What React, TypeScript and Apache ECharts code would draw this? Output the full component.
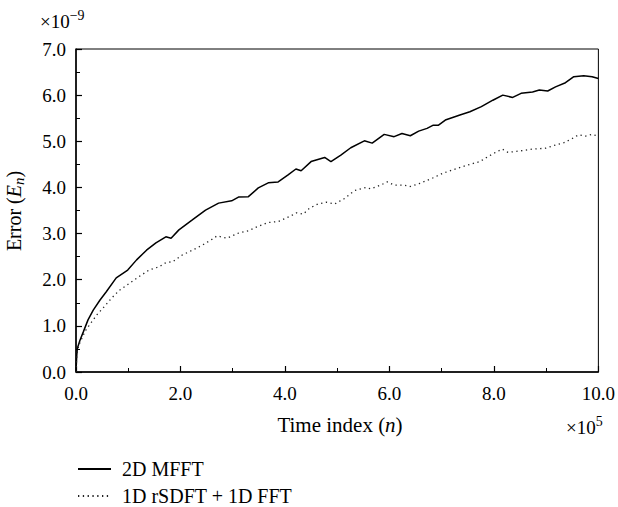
import React, { useEffect, useRef } from "react";
import * as echarts from "echarts";

const seriesNames = ["2D MFFT", "1D rSDFT + 1D FFT"];
const xTickLabels = ["0.0", "2.0", "4.0", "6.0", "8.0", "10.0"];

// time index (×10^5) and error (×10^-9)
const solidT = [0, 0.013, 0.025, 0.076, 0.14, 0.23, 0.33, 0.46, 0.58, 0.77, 0.99, 1.16, 1.35, 1.53, 1.72, 1.82, 1.97, 2.22, 2.48, 2.73, 2.98, 3.11, 3.3, 3.49, 3.68, 3.87, 4.06, 4.21, 4.31, 4.5, 4.76, 4.88, 5.07, 5.26, 5.52, 5.67, 5.9, 6.09, 6.24, 6.4, 6.56, 6.72, 6.84, 6.94, 7.07, 7.35, 7.54, 7.76, 7.98, 8.17, 8.36, 8.52, 8.74, 8.87, 9.03, 9.18, 9.37, 9.53, 9.72, 9.88, 10.0];
const solidE = [0, 0.33, 0.51, 0.69, 0.87, 1.13, 1.34, 1.56, 1.74, 2.04, 2.21, 2.43, 2.64, 2.8, 2.93, 2.9, 3.08, 3.29, 3.51, 3.66, 3.71, 3.79, 3.8, 3.99, 4.1, 4.12, 4.27, 4.4, 4.36, 4.56, 4.65, 4.56, 4.7, 4.86, 5.01, 4.96, 5.15, 5.1, 5.17, 5.12, 5.22, 5.28, 5.35, 5.35, 5.46, 5.57, 5.64, 5.75, 5.89, 6.0, 5.95, 6.04, 6.07, 6.11, 6.09, 6.18, 6.27, 6.4, 6.42, 6.4, 6.36];

const dottedT = [0, 0.013, 0.025, 0.076, 0.14, 0.19, 0.27, 0.4, 0.56, 0.68, 0.83, 1.02, 1.21, 1.4, 1.59, 1.72, 1.85, 2.04, 2.23, 2.42, 2.61, 2.7, 2.89, 3.11, 3.3, 3.49, 3.68, 3.87, 4.09, 4.22, 4.35, 4.47, 4.63, 4.79, 4.95, 5.14, 5.33, 5.55, 5.64, 5.83, 5.96, 6.09, 6.28, 6.4, 6.59, 6.84, 7.03, 7.29, 7.54, 7.73, 7.89, 8.05, 8.16, 8.27, 8.49, 8.74, 8.99, 9.18, 9.34, 9.5, 9.62, 9.75, 9.88, 10.0];
const dottedE = [0, 0.3, 0.46, 0.64, 0.8, 0.91, 1.04, 1.24, 1.44, 1.6, 1.77, 1.92, 2.07, 2.21, 2.28, 2.37, 2.39, 2.54, 2.64, 2.75, 2.88, 2.95, 2.9, 3.01, 3.06, 3.16, 3.24, 3.26, 3.37, 3.45, 3.42, 3.55, 3.64, 3.68, 3.64, 3.76, 3.93, 4.0, 3.97, 4.05, 4.12, 4.05, 4.05, 4.02, 4.09, 4.21, 4.31, 4.41, 4.5, 4.56, 4.67, 4.77, 4.83, 4.76, 4.79, 4.83, 4.85, 4.92, 4.97, 5.06, 5.14, 5.11, 5.15, 5.11];

const FONT = "'Liberation Serif', 'DejaVu Serif', serif";

export default function App() {
  const ref = useRef<HTMLDivElement>(null);
  useEffect(() => {
    if (!ref.current) return;
    const chart = echarts.init(ref.current, null, { renderer: "svg" });
    const solid = solidT.map((t, i) => [t, solidE[i]]);
    const dotted = dottedT.map((t, i) => [t, dottedE[i]]);
    const legendBase = {
      orient: "horizontal",
      left: 77,
      padding: 0,
      itemWidth: 33,
      itemHeight: 14,
      itemStyle: { opacity: 0 },
      textStyle: { color: "#000", fontFamily: FONT, fontSize: 20, padding: [0, 0, 0, 6] },
    };
    chart.setOption({
      animation: false,
      backgroundColor: "#fff",
      grid: {
        left: 76,
        top: 49,
        right: 15,
        bottom: 135,
        show: true,
        borderColor: "#000",
        borderWidth: 1,
      },
      xAxis: {
        type: "value",
        min: 0,
        max: 10,
        interval: 2,
        axisLine: { onZero: false, lineStyle: { color: "#000", width: 1.5 } },
        axisTick: { inside: true, length: 6, lineStyle: { color: "#000", width: 1.2 } },
        minorTick: { show: true, splitNumber: 2, length: 4, lineStyle: { color: "#000", width: 1 } },
        splitLine: { show: false },
        axisLabel: {
          color: "#000",
          fontFamily: FONT,
          fontSize: 19,
          margin: 12,
          formatter: (v: number) => xTickLabels[Math.round(v / 2)] ?? "",
        },
      },
      yAxis: {
        type: "value",
        min: 0,
        max: 7,
        interval: 1,
        axisLine: { show: true, lineStyle: { color: "#000", width: 1.5 } },
        axisTick: { inside: true, length: 6, lineStyle: { color: "#000", width: 1.2 } },
        minorTick: { show: true, splitNumber: 2, length: 4, lineStyle: { color: "#000", width: 1 } },
        splitLine: { show: false },
        axisLabel: {
          color: "#000",
          fontFamily: FONT,
          fontSize: 19,
          margin: 10,
          formatter: (v: number) => v.toFixed(1),
        },
      },
      legend: [
        { ...legendBase, top: 459, data: [seriesNames[0]] },
        { ...legendBase, top: 486, data: [seriesNames[1]] },
      ],
      series: [
        {
          name: seriesNames[0],
          type: "line",
          data: solid,
          symbol: "none",
          lineStyle: { color: "#000", width: 1.5 },
          itemStyle: { color: "#000" },
        },
        {
          name: seriesNames[1],
          type: "line",
          data: dotted,
          symbol: "none",
          lineStyle: { color: "#222", width: 1.3, type: [1.3, 3.5] },
          itemStyle: { color: "#222" },
        },
      ],
      graphic: [
        {
          type: "text",
          left: 40,
          top: 8,
          style: {
            text: "×10{sup|−9}",
            fontFamily: FONT,
            fontSize: 19,
            fill: "#000",
            rich: { sup: { fontSize: 14, fontFamily: FONT, verticalAlign: "top", padding: [0, 0, 12, 0] } },
          },
        },
        {
          type: "text",
          left: 566,
          top: 414,
          style: {
            text: "×10{sup|5}",
            fontFamily: FONT,
            fontSize: 19,
            fill: "#000",
            rich: { sup: { fontSize: 14, fontFamily: FONT, verticalAlign: "top", padding: [0, 0, 12, 0] } },
          },
        },
        {
          type: "text",
          x: 340,
          y: 425,
          style: {
            text: "Time index ({i|n})",
            fontFamily: FONT,
            fontSize: 21,
            fill: "#000",
            align: "center",
            verticalAlign: "middle",
            rich: { i: { fontStyle: "italic", fontFamily: FONT, fontSize: 21 } },
          },
        },
        {
          type: "text",
          x: 14,
          y: 211,
          rotation: Math.PI / 2,
          style: {
            text: "Error ({i|E}{sub|n})",
            fontFamily: FONT,
            fontSize: 20,
            fill: "#000",
            align: "center",
            verticalAlign: "middle",
            rich: {
              i: { fontStyle: "italic", fontFamily: FONT, fontSize: 20 },
              sub: { fontStyle: "italic", fontFamily: FONT, fontSize: 15, padding: [10, 0, 0, 0] },
            },
          },
        },
      ],
    });
    return () => chart.dispose();
  }, []);
  return <div ref={ref} style={{ width: 618, height: 507, position: "absolute", left: 0, top: 0 }} />;
}
